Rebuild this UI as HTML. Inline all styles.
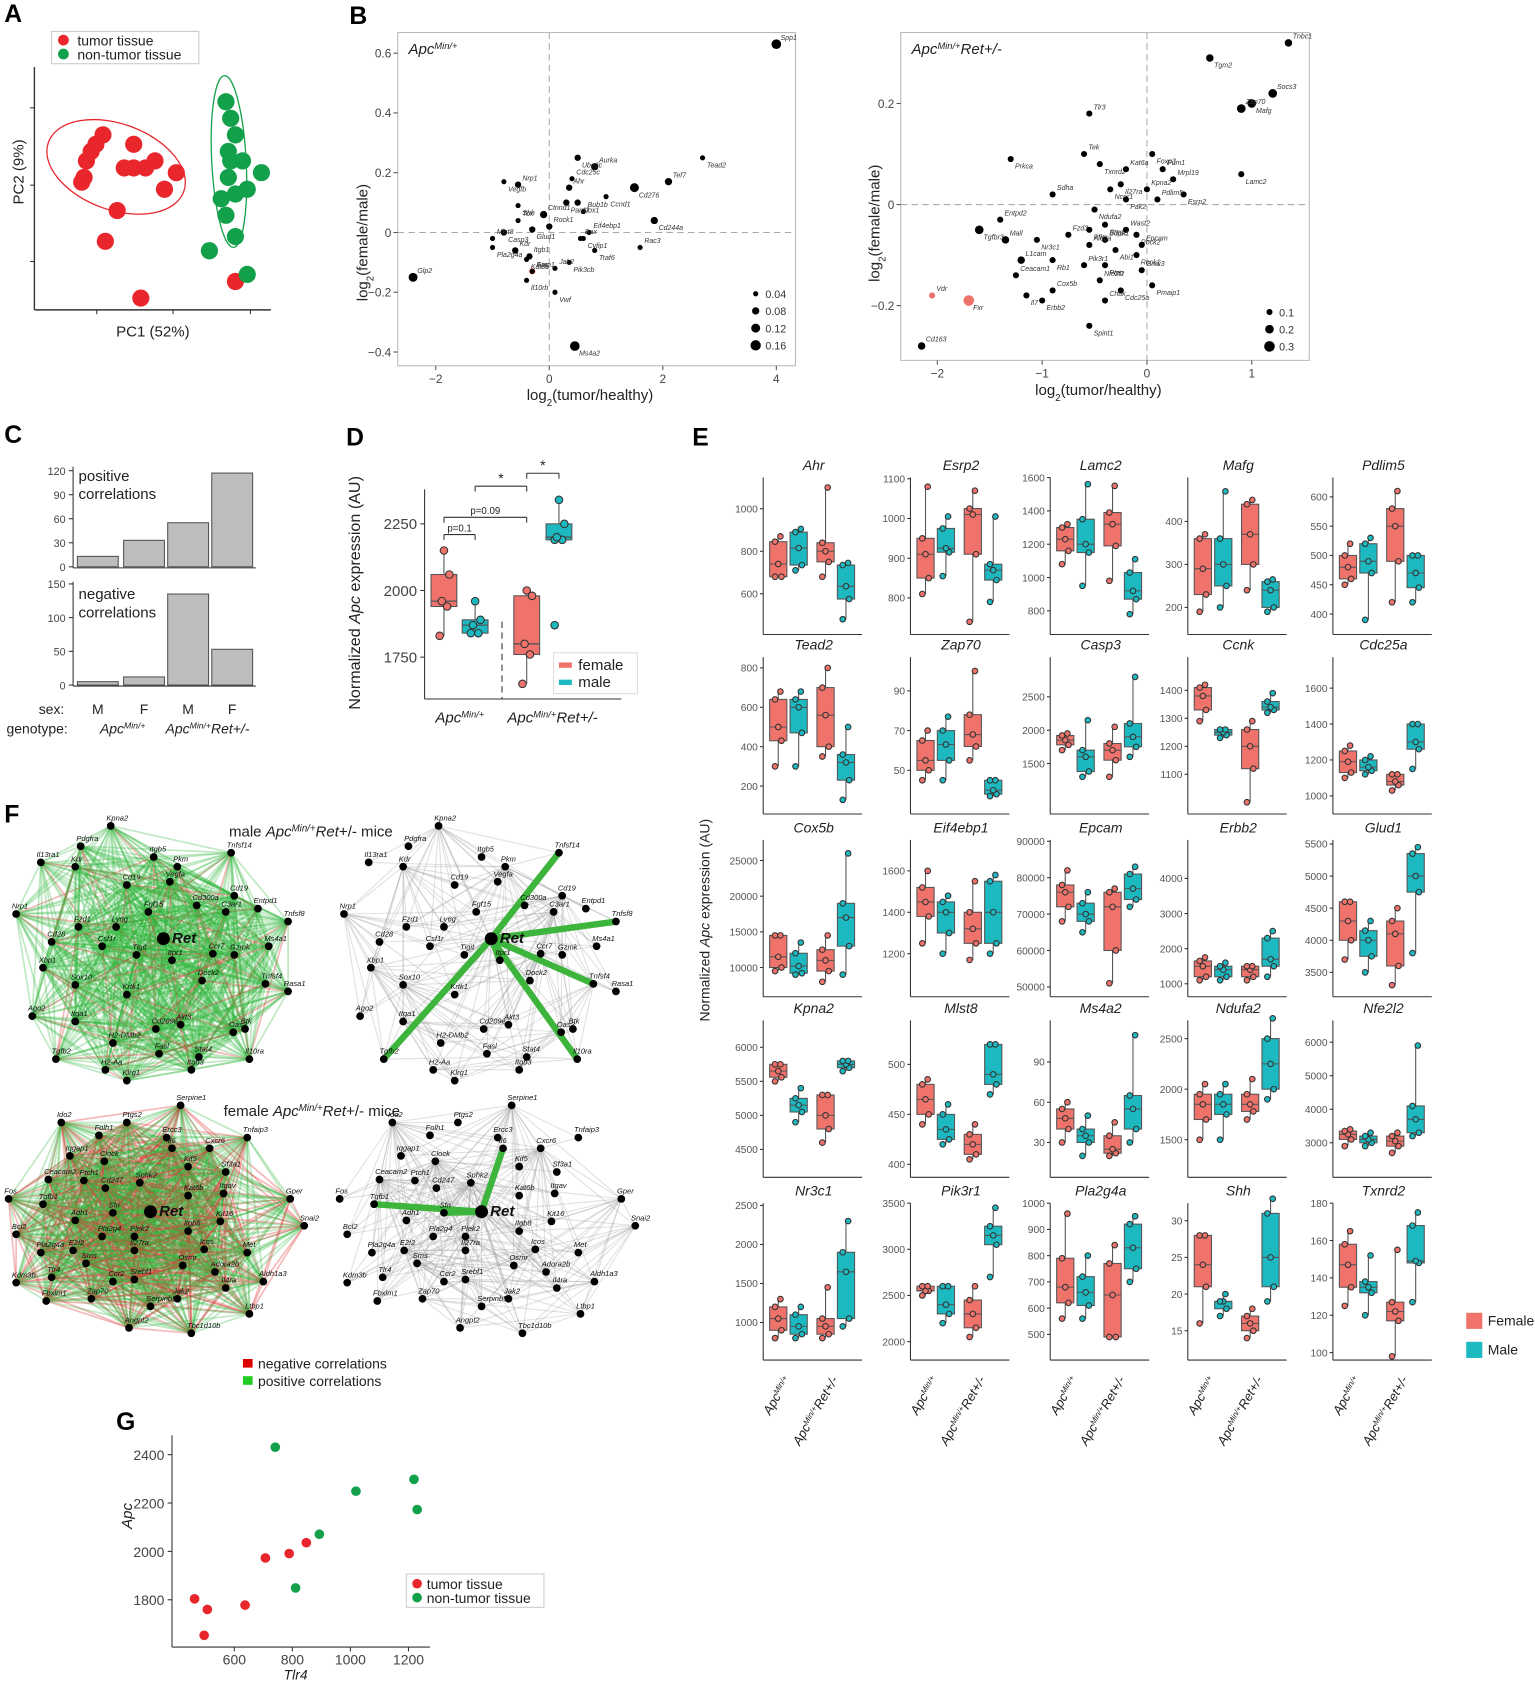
<!DOCTYPE html>
<html><head><meta charset="utf-8"><style>
html,body{margin:0;padding:0;background:#fff}
svg{display:block;font-family:"Liberation Sans",Arial,sans-serif}
</style></head><body>
<svg id="fig" xmlns="http://www.w3.org/2000/svg" width="1535" height="1685" viewBox="0 0 1428 1567">
<rect width="1428" height="1567" fill="#fff"/>
<g id="pA"></g>
<g id="pB1"></g>
<g id="pB2"></g>
<g id="pC"></g>
<g id="pD"></g>
<g id="pE"></g>
<g id="pF"></g>
<g id="pG"></g>
</svg>
<script>
const NS="http://www.w3.org/2000/svg";
const FEM="#f0736b", MAL="#1db9c1";
// ---------- DATA ----------
const pcaTumorPC1=[22,21,24,29,26,42,38,42,47,51,60,55,35,20,30,45,85];
const pcaTumorPC2=[63,56,67,74,70,70,60,60,60,63,58,51,42,54,29,5,12];
const pcaNormalPC1=[81,83,85,82,83,88,82,85,90,79,81,85,96,74,90];
const pcaNormalPC2=[88,81,74,67,63,63,56,49,51,47,40,31,58,25,15];

const b1Genes=["Spp1","Tead2","Tef7","Cd276","Aurka","Ube2c","Cdc25c","Ccnd1","Ahr","Alox1","Bub1b","Cd244a","Eif4ebp1","Cyfip1","Rac3","Traf6","Bax","Pik3cb","Jak2","Vwf","Apc","Ms4a2","Glp2","Vegfb","Nrp1","Shh","Tox","Casp3","Mlst8","Pla2g4a","Kdr","Kat6b","Esrp1","Il10rb","Ctnnd1","Parp2","Rock1","Glud1","Itgb1"];
const b1LFC=[4.0,2.7,2.1,1.5,0.8,0.5,0.4,1.0,0.35,0.5,0.6,1.85,0.7,0.6,1.6,0.8,0.55,0.35,0.1,0.1,-0.3,0.45,-2.4,-0.8,-0.55,-0.55,-0.55,-0.8,-1.0,-1.0,-0.6,-0.4,-0.3,-0.4,-0.1,0.3,0.0,-0.3,-0.35];
const b1Ratio=[0.63,0.25,0.17,0.15,0.22,0.25,0.18,0.12,0.15,0.10,0.07,0.04,0.0,-0.02,-0.05,-0.06,-0.02,-0.10,-0.12,-0.20,-0.13,-0.38,-0.15,0.17,0.16,0.09,0.04,0.0,-0.02,-0.05,-0.06,-0.09,-0.13,-0.16,0.06,0.10,0.02,0.01,-0.08];
const b1Size=[0.14,0.04,0.08,0.12,0.08,0.06,0.04,0.04,0.06,0.06,0.04,0.08,0.04,0.04,0.04,0.04,0.04,0.04,0.04,0.04,0.06,0.14,0.12,0.04,0.06,0.04,0.04,0.06,0.04,0.04,0.06,0.04,0.04,0.04,0.08,0.06,0.06,0.06,0.06];
const b1Red=["Apc"];
const b1SizeTicks=[0.04,0.08,0.12,0.16];

const b2Genes=["Tnbc1","Tgm2","Socs3","Mafg","Zap70","Lamc2","Tlr3","Prkca","Tek","Txnrd2","Kat6a","Foxp3","Pum1","Il27ra","Mrpl19","Ncor1","Kpna2","Esrp2","Pdlim5","Pak2","Sdha","Ndufa2","Entpd2","Stag2","Wast2","Tgfbr3","Fzd3","Pfkp","Bdpk1","Rock2","Mall","Nr3c1","Aldoa","Abi1","Epcam","Rock1","L1cam","Rb1","Pik3r1","Pten","Gnai3","Pmaip1","Ceacam1","Il7","Cox5b","Erbb2","Nfe2l2","Cdc25a","Chuk","Spint1","Vdr","Fxr","Cd163"];
const b2LFC=[1.35,0.6,1.2,1.0,0.9,0.9,-0.55,-1.3,-0.6,-0.45,-0.2,0.05,0.15,-0.25,0.25,-0.35,0.0,0.35,0.1,-0.2,-0.9,-0.5,-1.4,-0.4,-0.2,-1.6,-0.75,-0.55,-0.4,-0.1,-1.35,-1.05,-0.55,-0.3,-0.05,-0.1,-1.2,-0.9,-0.6,-0.4,-0.05,0.05,-1.25,-1.15,-0.9,-1.0,-0.45,-0.25,-0.4,-0.55,-2.05,-1.7,-2.15];
const b2Ratio=[0.32,0.29,0.22,0.20,0.19,0.06,0.18,0.09,0.10,0.08,0.07,0.10,0.07,0.04,0.05,0.03,0.03,0.02,0.01,0.01,0.02,-0.01,-0.03,-0.04,-0.05,-0.05,-0.06,-0.05,-0.07,-0.06,-0.07,-0.07,-0.08,-0.09,-0.08,-0.10,-0.11,-0.11,-0.12,-0.12,-0.13,-0.16,-0.14,-0.18,-0.17,-0.19,-0.15,-0.17,-0.19,-0.24,-0.18,-0.19,-0.28];
const b2Size=[0.15,0.15,0.2,0.2,0.2,0.1,0.1,0.1,0.1,0.1,0.1,0.1,0.1,0.1,0.1,0.1,0.1,0.1,0.1,0.1,0.1,0.1,0.1,0.1,0.1,0.2,0.1,0.1,0.1,0.1,0.15,0.1,0.1,0.1,0.1,0.1,0.15,0.1,0.1,0.1,0.1,0.1,0.1,0.1,0.1,0.1,0.1,0.1,0.1,0.1,0.1,0.3,0.15];
const b2Red=["Vdr","Fxr"];
const b2SizeTicks=[0.1,0.2,0.3];

const cPosVals=[13,33,55,117];
const cNegVals=[5,12,135,53];
const cPosTicks=[0,30,60,90,120];
const cNegTicks=[0,50,100,150];

const dTicks=[1750,2000,2250];
const dStats=[[1830,1940,1960,2060,2150],[1840,1840,1870,1890,1960],[1650,1760,1800,1980,2000],[2190,2190,2200,2250,2340]];
const dOutliers=[[],[],[],[1870]];

const eGenes=["Ahr","Esrp2","Lamc2","Mafg","Pdlim5","Tead2","Zap70","Casp3","Ccnk","Cdc25a","Cox5b","Eif4ebp1","Epcam","Erbb2","Glud1","Kpna2","Mlst8","Ms4a2","Ndufa2","Nfe2l2","Nr3c1","Pik3r1","Pla2g4a","Shh","Txnrd2"];
const eDomains=[[408,1147],[708,1103],[658,1600],[137,502],[365,633],[58,855],[28,107],[742,3097],[958,1519],[899,1773],[5900,27900],[992,1750],[47300,90400],[630,5100],[3120,5565],[4090,6395],[387,544],[4,121],[1128,2680],[1970,6650],[518,2530],[1800,3500],[402,1000],[11,32.4],[96,180]];
const eTicks=[[600,800,1000],[800,900,1000,1100],[800,1000,1200,1400,1600],[200,300,400],[400,450,500,550,600],[200,400,600,800],[50,70,90],[1500,2000,2500],[1100,1200,1300,1400],[1000,1200,1400,1600],[10000,15000,20000,25000],[1200,1400,1600],[50000,60000,70000,80000,90000],[1000,2000,3000,4000],[3500,4000,4500,5000,5500],[4500,5000,5500,6000],[400,450,500],[30,60,90],[1500,2000,2500],[3000,4000,5000,6000],[1000,1500,2000,2500],[2000,2500,3000,3500],[500,600,700,800,900,1000],[15,20,25,30],[100,120,140,160,180]];
const eStats=[
[[680,680,740,845,870],[710,735,815,890,905],[680,750,800,840,1100],[480,575,635,735,745]],
[[810,850,910,950,1080],[855,915,925,975,1005],[740,910,1010,1025,1070],[790,845,870,885,1005]],
[[1080,1160,1230,1300,1320],[950,1150,1200,1350,1560],[980,1190,1320,1390,1550],[780,870,920,1030,1110]],
[[190,230,290,360,370],[200,250,300,360,470],[240,300,370,440,450],[190,200,240,260,265]],
[[450,460,480,500,520],[390,470,490,520,530],[420,490,550,580,610],[420,445,470,500,500]],
[[300,430,500,640,680],[300,470,600,640,680],[350,400,560,700,800],[130,230,320,360,500]],
[[45,50,55,65,70],[45,55,63,70,77],[55,62,68,78,100],[37,38,40,45,45]],
[[1700,1780,1850,1920,1950],[1300,1380,1600,1700,2150],[1300,1550,1700,1800,2050],[1600,1750,1900,2100,2800]],
[[1290,1330,1380,1410,1420],[1230,1240,1250,1260,1260],[1000,1120,1200,1260,1290],[1320,1330,1340,1360,1390]],
[[1100,1130,1190,1250,1280],[1120,1140,1160,1200,1220],[1030,1060,1080,1120,1120],[1150,1260,1300,1400,1400]],
[[9500,10000,11500,14500,14500],[9000,9200,10200,12000,13500],[8000,9500,11000,12500,14500],[9000,13000,17000,19000,26000]],
[[1250,1380,1450,1520,1600],[1200,1300,1400,1450,1480],[1170,1250,1320,1400,1550],[1200,1250,1400,1550,1580]],
[[68000,72000,76000,78000,82000],[65000,68000,70000,73000,76000],[51000,60000,72000,76000,77000],[72000,74000,77000,81000,83000]],
[[1100,1200,1500,1650,1750],[1100,1200,1400,1500,1600],[1100,1200,1400,1500,1500],[1200,1500,1700,2300,2500]],
[[3700,4000,4300,4600,4600],[3500,3750,4000,4150,4300],[3300,3600,4100,4300,4500],[3800,4750,5000,5350,5450]],
[[5500,5560,5650,5750,5750],[4900,5050,5150,5250,5400],[4600,4800,5000,5300,5300],[5650,5700,5750,5800,5800]],
[[440,450,465,480,485],[420,425,435,450,460],[405,410,420,430,440],[470,480,490,520,520]],
[[30,40,48,55,60],[20,30,35,40,50],[20,22,25,35,45],[30,40,55,65,110]],
[[1500,1700,1850,1950,2050],[1500,1750,1850,1950,2050],[1700,1780,1850,1950,2100],[1900,2000,2250,2500,2700]],
[[2900,3100,3250,3350,3400],[2900,3000,3100,3200,3300],[2700,2900,3050,3200,3300],[3200,3300,3700,4100,5900]],
[[800,900,1050,1200,1300],[800,850,950,1100,1200],[800,850,950,1050,1450],[950,1050,1650,1900,2300]],
[[2500,2550,2550,2600,2600],[2200,2300,2400,2600,2600],[2050,2150,2300,2450,2600],[2700,3050,3150,3250,3450]],
[[560,620,680,790,960],[560,610,660,720,800],[490,490,650,770,840],[700,750,830,920,950]],
[[16,21,24,28,28],[17,18,19,19,20],[14,15,16,17,18],[19,21,25,31,33]],
[[125,135,147,158,165],[120,132,135,138,152],[98,117,122,127,155],[127,148,149,168,175]]];

const gTumorTlr4=[463,507,496,637,707,789,848];
const gTumorApc=[1804,1760,1653,1778,1973,1991,2036];
const gNormalTlr4=[741,1019,1219,1230,893,811];
const gNormalApc=[2431,2249,2298,2173,2071,1849];
const gXTicks=[600,800,1000,1200];
const gYTicks=[1800,2000,2200,2400];

// ---------- HELPERS ----------
function mk(t,a,p){const e=document.createElementNS(NS,t);for(const k in a)e.setAttribute(k,a[k]);p.appendChild(e);return e;}
function tx(s,x,y,sz,p,a){const o=Object.assign({x:x,y:y,'font-size':sz,fill:'#222'},a||{});const e=mk('text',o,p);e.textContent=s;return e;}
function apc(x,y,sz,p,ret,a){const e=mk('text',Object.assign({x:x,y:y,'font-size':sz,fill:'#222','font-style':'italic'},a||{}),p);
 const t1=mk('tspan',{},e);t1.textContent='Apc';
 const t2=mk('tspan',{'baseline-shift':'super','font-size':sz*0.62},e);t2.textContent='Min/+';
 if(ret){const t3=mk('tspan',{},e);t3.textContent='Ret+/-';}return e;}
const line=(p,x1,y1,x2,y2,st,w,extra)=>mk('line',Object.assign({x1:x1,y1:y1,x2:x2,y2:y2,stroke:st||'#222','stroke-width':w||1},extra||{}),p);

// panel letters
const root=document.getElementById('fig');
[["A",4,20],["B",325,22],["C",4,412],["D",322,414],["E",644,414],["F",4,765],["G",108,1330]].forEach(l=>{
 const e=tx(l[0],l[1],l[2],23,root,{'font-weight':'bold',fill:'#000'});
 
 
});

// ---------- PANEL A ----------
(function(){
 const p=document.getElementById('pA');
 const xA=v=>32+v*2.2, yA=v=>288-v*2.2;
 mk('ellipse',{cx:108,cy:155,rx:67,ry:40,transform:'rotate(20 108 155)',fill:'none',stroke:'#e8262c','stroke-width':1.2},p);
 mk('ellipse',{cx:213,cy:150,rx:16,ry:80,transform:'rotate(-3 213 150)',fill:'none',stroke:'#13a04a','stroke-width':1.2},p);
 pcaTumorPC1.forEach((v,i)=>{const c=mk('circle',{cx:xA(v),cy:yA(pcaTumorPC2[i]),r:8,fill:'#e8262c'},p);
  
  });
 pcaNormalPC1.forEach((v,i)=>{const c=mk('circle',{cx:xA(v),cy:yA(pcaNormalPC2[i]),r:8,fill:'#13a04a'},p);
  
  });
 line(p,32,62,32,288,'#333',1.3);line(p,32,288,252,288,'#333',1.3);
 [90,161,233].forEach(x=>line(p,x,288,x,292,'#333'));
 [100,172,243].forEach(y=>line(p,28,y,32,y,'#333'));
 tx('PC1 (52%)',108,313,14,p);
 tx('PC2 (9%)',22,190,14,p,{transform:'rotate(-90 22 190)'});
 const lg=mk('g',{},p);
 
 
 mk('rect',{x:48,y:29,width:137,height:30,fill:'#fff',stroke:'#ccc'},lg);
 mk('circle',{cx:59,cy:37,r:5,fill:'#e8262c'},lg);mk('circle',{cx:59,cy:50,r:5,fill:'#13a04a'},lg);
 tx('tumor tissue',72,42,13,lg);tx('non-tumor tissue',72,55,13,lg);
})();

// ---------- PANEL B ----------
function scatterB(p,genes,lfc,ratio,size,red,fx,fy,box,xt,yt,rfun,sizeTicks,title,ret,legY){
 mk('rect',{x:box[0],y:box[1],width:box[2]-box[0],height:box[3]-box[1],fill:'none',stroke:'#bbb'},p);
 line(p,fx(0),box[1],fx(0),box[3],'#aaa',1,{'stroke-dasharray':'6,4'});
 line(p,box[0],fy(0),box[2],fy(0),'#aaa',1,{'stroke-dasharray':'6,4'});
 xt.forEach(v=>{line(p,fx(v),box[3],fx(v),box[3]+4,'#555');tx(v<0?'\u2212'+(-v):String(v),fx(v),box[3]+16,11,p,{'text-anchor':'middle',fill:'#444'});});
 yt.forEach(v=>{line(p,box[0]-4,fy(v),box[0],fy(v),'#555');tx(v<0?'\u2212'+(-v):String(v),box[0]-6,fy(v)+4,11,p,{'text-anchor':'end',fill:'#444'});});
 genes.forEach((g,i)=>{const isR=red.indexOf(g)>=0;
  const c=mk('circle',{cx:fx(lfc[i]),cy:fy(ratio[i]),r:rfun(size[i]),fill:isR?'#f0736b':'#000'},p);
  
  
  tx(g,fx(lfc[i])+4,fy(ratio[i])+(i%2?9:-4),6.5,p,{'font-style':'italic',fill:'#333'});});
 apc(box[0]+10,box[1]+20,14,p,ret);
 sizeTicks.forEach((s,i)=>{const y=legY+i*16;mk('circle',{cx:box[2]-37,cy:y,r:rfun(s),fill:'#000'},p);tx(String(s),box[2]-28,y+4,10,p,{fill:'#333'});});
 tx('log',(box[0]+box[2])/2-65,box[3]+32,14,p).innerHTML='log<tspan baseline-shift="sub" font-size="9">2</tspan>(tumor/healthy)';
}
(function(){
 const p=document.getElementById('pB1');
 scatterB(p,b1Genes,b1LFC,b1Ratio,b1Size,b1Red,v=>511+v*52.8,v=>216-v*278,[370,30,740,340],[-2,0,2,4],[-0.4,-0.2,0,0.2,0.4,0.6],s=>Math.sqrt(s)*12,b1SizeTicks,'',false,273);
 const yl=tx('',342,280,14,p,{transform:'rotate(-90 342 280)'});yl.innerHTML='log<tspan baseline-shift="sub" font-size="9">2</tspan>(female/male)';
 const p2=document.getElementById('pB2');
 scatterB(p2,b2Genes,b2LFC,b2Ratio,b2Size,b2Red,v=>1067+v*97.5,v=>190-v*470,[838,30,1218,335],[-2,-1,0,1],[-0.2,0,0.2],s=>Math.sqrt(s)*9,b2SizeTicks,'',true,290);
 const yl2=tx('',818,262,14,p2,{transform:'rotate(-90 818 262)'});yl2.innerHTML='log<tspan baseline-shift="sub" font-size="9">2</tspan>(female/male)';
})();

// ---------- PANEL C ----------
(function(){
 const p=document.getElementById('pC');
 const bx=[72,115,156,197];
 const yP=v=>527-v*0.745, yN=v=>637-v*0.627;
 line(p,68,434,68,528,'#333');line(p,68,528,238,528,'#333');
 line(p,68,541,68,638,'#333');line(p,68,638,238,638,'#333');
 cPosTicks.forEach(v=>{line(p,64,yP(v),68,yP(v),'#333');tx(String(v),61,yP(v)+4,10,p,{'text-anchor':'end',fill:'#444'});});
 cNegTicks.forEach(v=>{line(p,64,yN(v),68,yN(v),'#333');tx(String(v),61,yN(v)+4,10,p,{'text-anchor':'end',fill:'#444'});});
 cPosVals.forEach((v,i)=>{const r=mk('rect',{x:bx[i],y:yP(v),width:38,height:527-yP(v),fill:'#bdbdbd',stroke:'#555'},p);
  
  });
 cNegVals.forEach((v,i)=>{const r=mk('rect',{x:bx[i],y:yN(v),width:38,height:637-yN(v),fill:'#bdbdbd',stroke:'#555'},p);
  
  });
 tx('positive',73,447,14,p);tx('correlations',73,464,14,p);
 tx('negative',73,557,14,p);tx('correlations',73,574,14,p);
 tx('sex:',36,664,13,p);tx('genotype:',6,682,13,p);
 ['M','F','M','F'].forEach((s,i)=>tx(s,bx[i]+19,664,13,p,{'text-anchor':'middle'}));
 apc(93,682,13,p,false);apc(154,682,13,p,true);
})();

// ---------- PANEL D ----------
(function(){
 const p=document.getElementById('pD');
 const yD=v=>650-(v-1593)*0.248;
 const cx=[413,442,490,520],col=[FEM,MAL,FEM,MAL];
 line(p,395,455,395,650,'#333');line(p,395,650,578,650,'#333');
 dTicks.forEach(v=>{line(p,391,yD(v),395,yD(v),'#333');tx(String(v),388,yD(v)+5,14,p,{'text-anchor':'end',fill:'#444'});});
 line(p,467,578,467,650,'#333',1,{'stroke-dasharray':'6,4'});
 dStats.forEach((s,i)=>{const g=mk('g',{},p);
  
  
  line(g,cx[i],yD(s[0]),cx[i],yD(s[4]),'#555');
  mk('rect',{x:cx[i]-12,y:yD(s[3]),width:24,height:yD(s[1])-yD(s[3]),fill:col[i],stroke:'#555'},g);
  line(g,cx[i]-12,yD(s[2]),cx[i]+12,yD(s[2]),'#555',1.2);
  s.concat(dOutliers[i]).forEach((v,k)=>mk('circle',{cx:cx[i]+[-4,3,-2,5,0][k%5],cy:yD(v),r:3.5,fill:col[i],stroke:'#333'},g));});
 const br=(x1,x2,y,t)=>{line(p,x1,y+5,x1,y,'#333');line(p,x1,y,x2,y,'#333');line(p,x2,y,x2,y+5,'#333');tx(t,(x1+x2)/2,y-3,t=='*'?13:9,p,{'text-anchor':'middle'});};
 br(413,442,497,'p=0.1');br(413,490,481,'p=0.09');br(442,490,452,'*');br(490,520,440,'*');
 apc(405,672,14,p,false);apc(472,672,14,p,true);
 const yl=tx('',335,660,15,p,{transform:'rotate(-90 335 660)'});yl.innerHTML='Normalized <tspan font-style="italic">Apc</tspan> expression (AU)';
 const lg=mk('g',{},p);
 
 
 mk('rect',{x:515,y:607,width:78,height:38,fill:'#fff',stroke:'#ddd'},lg);
 mk('rect',{x:520,y:616,width:12,height:5,fill:FEM},lg);mk('rect',{x:520,y:632,width:12,height:5,fill:MAL},lg);
 tx('female',538,623,14,lg);tx('male',538,639,14,lg);
})();

// ---------- PANEL E ----------
(function(){
 const p=document.getElementById('pE');
 const colX=[710,847,977,1105,1240],rowB=[590,757,927,1095,1265];
 const off=[14,33,58,77],col=[FEM,MAL,FEM,MAL];
 eGenes.forEach((g,gi)=>{
  const r=Math.floor(gi/5),c=gi%5,ax=colX[c],bt=rowB[r],top=bt-146;const d=eDomains[gi];
  const y=v=>bt-(v-d[0])/(d[1]-d[0])*146;
  const sg=mk('g',{},p);
  
  
  tx(g,ax+47,bt-153,13,sg,{'text-anchor':'middle','font-style':'italic'});
  line(sg,ax,top,ax,bt,'#333');line(sg,ax,bt,ax+92,bt,'#333');
  eTicks[gi].forEach(v=>{if(y(v)<top-9||y(v)>bt)return;line(sg,ax-3,y(v),ax,y(v),'#333');tx(String(v),ax-5,y(v)+3.5,9.5,sg,{'text-anchor':'end',fill:'#555'});});
  eStats[gi].forEach((s,k)=>{const x=ax+off[k];
   line(sg,x,y(s[0]),x,y(s[4]),'#555');
   mk('rect',{x:x-8,y:y(s[3]),width:16,height:Math.max(1,y(s[1])-y(s[3])),fill:col[k],stroke:'#555'},sg);
   line(sg,x-8,y(s[2]),x+8,y(s[2]),'#555');
   s.forEach((v,j)=>mk('circle',{cx:x+[-3,3,0,-3,2][j],cy:y(v),r:2.6,fill:col[k],stroke:'#333','stroke-width':1},sg));});
 });
 colX.forEach(ax=>{apc(ax+26,1283,12,p,false,{'text-anchor':'end',transform:'rotate(-60 '+(ax+26)+' 1283)'});
  apc(ax+70,1283,12,p,true,{'text-anchor':'end',transform:'rotate(-60 '+(ax+70)+' 1283)'});});
 const yl=tx('',660,950,13,p,{transform:'rotate(-90 660 950)'});yl.innerHTML='Normalized <tspan font-style="italic">Apc</tspan> expression (AU)';
 mk('rect',{x:1364,y:1221,width:15,height:15,fill:FEM},p);mk('rect',{x:1364,y:1248,width:15,height:15,fill:MAL},p);
 tx('Female',1384,1233,13,p);tx('Male',1384,1260,13,p);
})();

// ---------- PANEL F ----------
const maleNodes=[["Kpna2",103,768],["Pdgfra",75,787],["Itgb5",143,797],["Pkm",165,806],["Tnfsf14",215,793],["Il13ra1",38,802],["Kdr",70,806],["Cd19",118,823],["Vegfa",158,820],["Cd19",218,833],["Entpd1",240,845],["Tnfsf8",268,857],["Nrp1",15,850],["Fgf15",138,848],["Cd300a",183,842],["C3ar1",210,848],["Fzd1",73,862],["Ly6g",108,862],["Ret",152,873],["Csf1r",95,880],["Tigit",127,888],["Ccr7",198,887],["Gzmk",218,888],["Ms4a1",250,880],["Xbp1",40,900],["Cd28",48,876],["Itpr1",160,893],["Sox10",70,916],["Krtk1",118,925],["Dock2",188,912],["Tnfsf4",247,915],["Rasa1",268,922],["Ago2",30,945],["Itga1",70,950],["Cd209e",145,957],["Akt3",168,953],["Oas2",217,960],["H2-DMb2",105,970],["Fasl",148,980],["Stat4",185,983],["Btk",228,957],["Tgfb2",52,985],["H2-Aa",98,995],["Klrg1",118,1005],["Il10ra",232,985],["Itgb3",178,995]];
const femaleNodes=[["Ido2",57,1044],["Folh1",92,1056],["Ptgs2",118,1044],["Serpine1",168,1028],["Ercc3",155,1058],["Il6",160,1068],["Cxcr6",195,1068],["Tnfaip3",230,1058],["Iqgap1",65,1075],["Clock",97,1080],["Kif5",175,1085],["Sf3a1",210,1090],["Ceacam2",45,1097],["Ptch1",78,1098],["Cd247",98,1105],["Sphk2",130,1100],["Kat6b",175,1112],["Itgav",208,1110],["Gper",270,1115],["Fos",8,1115],["Tgfb1",40,1120],["Ret",140,1127],["Sfn",105,1128],["Kit16",205,1136],["Snai2",283,1140],["Bcl2",15,1148],["Adh1",70,1135],["Plek2",125,1150],["Itgb8",175,1145],["Pla2g4a",38,1165],["E2f2",68,1163],["Pla2g4",95,1150],["Il27ra",125,1163],["Icos",190,1162],["Met",230,1165],["Kdm3b",15,1193],["Sms",80,1175],["Osmr",170,1177],["Adora2b",200,1183],["Aldh1a3",245,1192],["Tlr4",48,1188],["Ccr2",105,1192],["Srebf1",125,1190],["Il4ra",210,1198],["Fbxlm1",43,1210],["Zap70",85,1208],["Serpinb5",140,1215],["Jak2",165,1208],["Ltbp1",232,1222],["Angpt2",120,1235],["Tbc1d10b",178,1240]];
const maleRetLinks=["Tnfsf14","Tnfsf8","Tnfsf4","Il10ra","Tgfb2","Itpr1"];
const femaleRetLinks=["Il6","Tgfb1","Sfn"];
(function(){
 const p=document.getElementById('pF');
 function net(nodes,dx,colored,redMod,links,name){
  const g=mk('g',{},p);
  
  
  const eg=mk('g',{},g);
  for(let i=0;i<nodes.length;i++)for(let j=i+1;j<nodes.length;j++){
   const a=nodes[i],b=nodes[j];const dd=Math.hypot(a[1]-b[1],a[2]-b[2]);
   if(dd>(colored?175:150))continue;
   if(!colored&&(i*7+j*3)%3!=0)continue;
   const red=colored&&((i*13+j*7)%redMod==0);
   line(eg,a[1]+dx,a[2],b[1]+dx,b[2],colored?(red?'#e03a3a':'#2fb53a'):'#999',colored?1.6:1,{'stroke-opacity':colored?(red?0.35:0.3):0.3});
  }
  const ret=nodes.find(n=>n[0]=='Ret');
  if(links)links.forEach(nm=>{const n=nodes.find(q=>q[0]==nm);if(n)line(g,ret[1]+dx,ret[2],n[1]+dx,n[2],'#3db53d',6);});
  nodes.forEach(n=>{const isR=n[0]=='Ret';mk('circle',{cx:n[1]+dx,cy:n[2],r:isR?6:3.6,fill:'#000'},g);
   tx(n[0],n[1]+dx+(isR?8:-4),n[2]+(isR?4:-5),isR?14:7,g,{'font-style':'italic','font-weight':isR?'bold':'normal',fill:'#111'});});
 }
 net(maleNodes,0,true,11,null,'male-network-colored');
 net(maleNodes,305,false,0,maleRetLinks,'male-network-gray');
 net(femaleNodes,0,true,3,null,'female-network-colored');
 net(femaleNodes,308,false,0,femaleRetLinks,'female-network-gray');
 const t1=tx('male ',213,778,14,p);const a1=mk('tspan',{'font-style':'italic'},t1);a1.innerHTML='Apc<tspan baseline-shift="super" font-size="9">Min/+</tspan>Ret';const b1=mk('tspan',{},t1);b1.textContent='+/- mice';
 const t2=tx('female ',208,1038,14,p);const a2=mk('tspan',{'font-style':'italic'},t2);a2.innerHTML='Apc<tspan baseline-shift="super" font-size="9">Min/+</tspan>Ret';const b2=mk('tspan',{},t2);b2.textContent='+/- mice';
 const lg=mk('g',{},p);
 
 
 mk('rect',{x:226,y:1264,width:9,height:8,fill:'#d00'},lg);mk('rect',{x:226,y:1280,width:9,height:8,fill:'#2c2'},lg);
 tx('negative correlations',240,1273,13,lg);tx('positive correlations',240,1289,13,lg);
})();

// ---------- PANEL G ----------
(function(){
 const p=document.getElementById('pG');
 const xG=v=>218+(v-600)*0.27, yG=v=>1488-(v-1800)*0.225;
 line(p,160,1335,160,1532,'#333');line(p,160,1532,400,1532,'#333');
 gXTicks.forEach(v=>{line(p,xG(v),1532,xG(v),1536,'#333');tx(String(v),xG(v),1548,13,p,{'text-anchor':'middle',fill:'#444'});});
 gYTicks.forEach(v=>{line(p,156,yG(v),160,yG(v),'#333');tx(String(v),153,yG(v)+5,13,p,{'text-anchor':'end',fill:'#444'});});
 gTumorTlr4.forEach((v,i)=>{const c=mk('circle',{cx:xG(v),cy:yG(gTumorApc[i]),r:4.5,fill:'#e8262c'},p);
  
  });
 gNormalTlr4.forEach((v,i)=>{const c=mk('circle',{cx:xG(v),cy:yG(gNormalApc[i]),r:4.5,fill:'#13a04a'},p);
  
  });
 tx('Tlr4',275,1562,13,p,{'font-style':'italic','text-anchor':'middle'});
 tx('Apc',123,1422,14,p,{'font-style':'italic',transform:'rotate(-90 123 1422)'});
 mk('rect',{x:378,y:1464,width:128,height:31,fill:'#fff',stroke:'#ccc'},p);
 mk('circle',{cx:388,cy:1473,r:4.5,fill:'#e8262c'},p);mk('circle',{cx:388,cy:1486,r:4.5,fill:'#13a04a'},p);
 tx('tumor tissue',397,1478,13,p);tx('non-tumor tissue',397,1491,13,p);
})();
</script>
</body></html>
